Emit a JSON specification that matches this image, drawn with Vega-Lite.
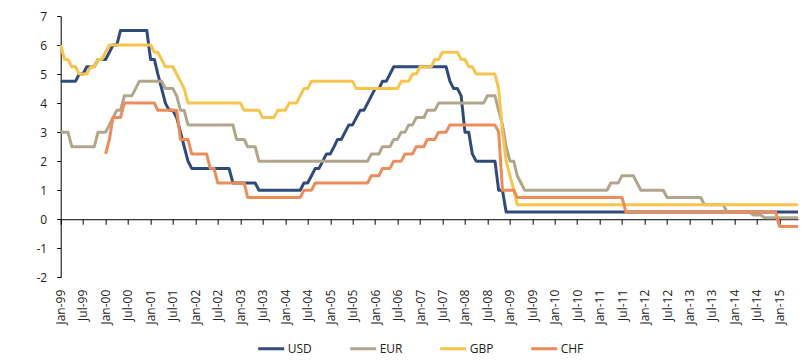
{
  "$schema": "https://vega.github.io/schema/vega-lite/v6.json",
  "autosize": {"type": "none"},
  "width": 737.3,
  "height": 261.3,
  "padding": {"left": 60.7, "top": 16, "right": 14, "bottom": 82.7},
  "background": "white",
  "config": {"view": {"stroke": null}, "font": "Open Sans"},
  "data": {"values": [
    {"currency":"USD","date":"1999-01-01","rate":4.75},
    {"currency":"USD","date":"1999-05-01","rate":4.75},
    {"currency":"USD","date":"1999-06-01","rate":5.0},
    {"currency":"USD","date":"1999-07-01","rate":5.0},
    {"currency":"USD","date":"1999-08-01","rate":5.25},
    {"currency":"USD","date":"1999-10-01","rate":5.25},
    {"currency":"USD","date":"1999-11-01","rate":5.5},
    {"currency":"USD","date":"2000-01-01","rate":5.5},
    {"currency":"USD","date":"2000-02-01","rate":5.75},
    {"currency":"USD","date":"2000-03-01","rate":6.0},
    {"currency":"USD","date":"2000-04-01","rate":6.0},
    {"currency":"USD","date":"2000-05-01","rate":6.5},
    {"currency":"USD","date":"2000-12-01","rate":6.5},
    {"currency":"USD","date":"2001-01-01","rate":5.5},
    {"currency":"USD","date":"2001-02-01","rate":5.5},
    {"currency":"USD","date":"2001-03-01","rate":5.0},
    {"currency":"USD","date":"2001-04-01","rate":4.5},
    {"currency":"USD","date":"2001-05-01","rate":4.0},
    {"currency":"USD","date":"2001-06-01","rate":3.75},
    {"currency":"USD","date":"2001-07-01","rate":3.75},
    {"currency":"USD","date":"2001-08-01","rate":3.5},
    {"currency":"USD","date":"2001-09-01","rate":3.0},
    {"currency":"USD","date":"2001-10-01","rate":2.5},
    {"currency":"USD","date":"2001-11-01","rate":2.0},
    {"currency":"USD","date":"2001-12-01","rate":1.75},
    {"currency":"USD","date":"2002-10-01","rate":1.75},
    {"currency":"USD","date":"2002-11-01","rate":1.25},
    {"currency":"USD","date":"2003-05-01","rate":1.25},
    {"currency":"USD","date":"2003-06-01","rate":1.0},
    {"currency":"USD","date":"2004-05-01","rate":1.0},
    {"currency":"USD","date":"2004-06-01","rate":1.25},
    {"currency":"USD","date":"2004-07-01","rate":1.25},
    {"currency":"USD","date":"2004-08-01","rate":1.5},
    {"currency":"USD","date":"2004-09-01","rate":1.75},
    {"currency":"USD","date":"2004-10-01","rate":1.75},
    {"currency":"USD","date":"2004-11-01","rate":2.0},
    {"currency":"USD","date":"2004-12-01","rate":2.25},
    {"currency":"USD","date":"2005-01-01","rate":2.25},
    {"currency":"USD","date":"2005-02-01","rate":2.5},
    {"currency":"USD","date":"2005-03-01","rate":2.75},
    {"currency":"USD","date":"2005-04-01","rate":2.75},
    {"currency":"USD","date":"2005-05-01","rate":3.0},
    {"currency":"USD","date":"2005-06-01","rate":3.25},
    {"currency":"USD","date":"2005-07-01","rate":3.25},
    {"currency":"USD","date":"2005-08-01","rate":3.5},
    {"currency":"USD","date":"2005-09-01","rate":3.75},
    {"currency":"USD","date":"2005-10-01","rate":3.75},
    {"currency":"USD","date":"2005-11-01","rate":4.0},
    {"currency":"USD","date":"2005-12-01","rate":4.25},
    {"currency":"USD","date":"2006-01-01","rate":4.5},
    {"currency":"USD","date":"2006-02-01","rate":4.5},
    {"currency":"USD","date":"2006-03-01","rate":4.75},
    {"currency":"USD","date":"2006-04-01","rate":4.75},
    {"currency":"USD","date":"2006-05-01","rate":5.0},
    {"currency":"USD","date":"2006-06-01","rate":5.25},
    {"currency":"USD","date":"2007-08-01","rate":5.25},
    {"currency":"USD","date":"2007-09-01","rate":4.75},
    {"currency":"USD","date":"2007-10-01","rate":4.5},
    {"currency":"USD","date":"2007-11-01","rate":4.5},
    {"currency":"USD","date":"2007-12-01","rate":4.25},
    {"currency":"USD","date":"2008-01-01","rate":3.0},
    {"currency":"USD","date":"2008-02-01","rate":3.0},
    {"currency":"USD","date":"2008-03-01","rate":2.25},
    {"currency":"USD","date":"2008-04-01","rate":2.0},
    {"currency":"USD","date":"2008-09-01","rate":2.0},
    {"currency":"USD","date":"2008-10-01","rate":1.0},
    {"currency":"USD","date":"2008-11-01","rate":1.0},
    {"currency":"USD","date":"2008-12-01","rate":0.25},
    {"currency":"USD","date":"2015-06-01","rate":0.25},

    {"currency":"EUR","date":"1999-01-01","rate":3.0},
    {"currency":"EUR","date":"1999-03-01","rate":3.0},
    {"currency":"EUR","date":"1999-04-01","rate":2.5},
    {"currency":"EUR","date":"1999-10-01","rate":2.5},
    {"currency":"EUR","date":"1999-11-01","rate":3.0},
    {"currency":"EUR","date":"2000-01-01","rate":3.0},
    {"currency":"EUR","date":"2000-02-01","rate":3.25},
    {"currency":"EUR","date":"2000-03-01","rate":3.5},
    {"currency":"EUR","date":"2000-04-01","rate":3.75},
    {"currency":"EUR","date":"2000-05-01","rate":3.75},
    {"currency":"EUR","date":"2000-06-01","rate":4.25},
    {"currency":"EUR","date":"2000-08-01","rate":4.25},
    {"currency":"EUR","date":"2000-09-01","rate":4.5},
    {"currency":"EUR","date":"2000-10-01","rate":4.75},
    {"currency":"EUR","date":"2001-04-01","rate":4.75},
    {"currency":"EUR","date":"2001-05-01","rate":4.5},
    {"currency":"EUR","date":"2001-07-01","rate":4.5},
    {"currency":"EUR","date":"2001-08-01","rate":4.25},
    {"currency":"EUR","date":"2001-09-01","rate":3.75},
    {"currency":"EUR","date":"2001-10-01","rate":3.75},
    {"currency":"EUR","date":"2001-11-01","rate":3.25},
    {"currency":"EUR","date":"2002-11-01","rate":3.25},
    {"currency":"EUR","date":"2002-12-01","rate":2.75},
    {"currency":"EUR","date":"2003-02-01","rate":2.75},
    {"currency":"EUR","date":"2003-03-01","rate":2.5},
    {"currency":"EUR","date":"2003-05-01","rate":2.5},
    {"currency":"EUR","date":"2003-06-01","rate":2.0},
    {"currency":"EUR","date":"2005-11-01","rate":2.0},
    {"currency":"EUR","date":"2005-12-01","rate":2.25},
    {"currency":"EUR","date":"2006-02-01","rate":2.25},
    {"currency":"EUR","date":"2006-03-01","rate":2.5},
    {"currency":"EUR","date":"2006-05-01","rate":2.5},
    {"currency":"EUR","date":"2006-06-01","rate":2.75},
    {"currency":"EUR","date":"2006-07-01","rate":2.75},
    {"currency":"EUR","date":"2006-08-01","rate":3.0},
    {"currency":"EUR","date":"2006-09-01","rate":3.0},
    {"currency":"EUR","date":"2006-10-01","rate":3.25},
    {"currency":"EUR","date":"2006-11-01","rate":3.25},
    {"currency":"EUR","date":"2006-12-01","rate":3.5},
    {"currency":"EUR","date":"2007-02-01","rate":3.5},
    {"currency":"EUR","date":"2007-03-01","rate":3.75},
    {"currency":"EUR","date":"2007-05-01","rate":3.75},
    {"currency":"EUR","date":"2007-06-01","rate":4.0},
    {"currency":"EUR","date":"2008-06-01","rate":4.0},
    {"currency":"EUR","date":"2008-07-01","rate":4.25},
    {"currency":"EUR","date":"2008-09-01","rate":4.25},
    {"currency":"EUR","date":"2008-10-01","rate":3.75},
    {"currency":"EUR","date":"2008-11-01","rate":3.25},
    {"currency":"EUR","date":"2008-12-01","rate":2.5},
    {"currency":"EUR","date":"2009-01-01","rate":2.0},
    {"currency":"EUR","date":"2009-02-01","rate":2.0},
    {"currency":"EUR","date":"2009-03-01","rate":1.5},
    {"currency":"EUR","date":"2009-04-01","rate":1.25},
    {"currency":"EUR","date":"2009-05-01","rate":1.0},
    {"currency":"EUR","date":"2011-03-01","rate":1.0},
    {"currency":"EUR","date":"2011-04-01","rate":1.25},
    {"currency":"EUR","date":"2011-06-01","rate":1.25},
    {"currency":"EUR","date":"2011-07-01","rate":1.5},
    {"currency":"EUR","date":"2011-10-01","rate":1.5},
    {"currency":"EUR","date":"2011-11-01","rate":1.25},
    {"currency":"EUR","date":"2011-12-01","rate":1.0},
    {"currency":"EUR","date":"2012-06-01","rate":1.0},
    {"currency":"EUR","date":"2012-07-01","rate":0.75},
    {"currency":"EUR","date":"2013-04-01","rate":0.75},
    {"currency":"EUR","date":"2013-05-01","rate":0.5},
    {"currency":"EUR","date":"2013-10-01","rate":0.5},
    {"currency":"EUR","date":"2013-11-01","rate":0.25},
    {"currency":"EUR","date":"2014-05-01","rate":0.25},
    {"currency":"EUR","date":"2014-06-01","rate":0.15},
    {"currency":"EUR","date":"2014-08-01","rate":0.15},
    {"currency":"EUR","date":"2014-09-01","rate":0.05},
    {"currency":"EUR","date":"2015-06-01","rate":0.05},

    {"currency":"GBP","date":"1999-01-01","rate":6.0},
    {"currency":"GBP","date":"1999-02-01","rate":5.5},
    {"currency":"GBP","date":"1999-03-01","rate":5.5},
    {"currency":"GBP","date":"1999-04-01","rate":5.25},
    {"currency":"GBP","date":"1999-05-01","rate":5.25},
    {"currency":"GBP","date":"1999-06-01","rate":5.0},
    {"currency":"GBP","date":"1999-08-01","rate":5.0},
    {"currency":"GBP","date":"1999-09-01","rate":5.25},
    {"currency":"GBP","date":"1999-10-01","rate":5.25},
    {"currency":"GBP","date":"1999-11-01","rate":5.5},
    {"currency":"GBP","date":"1999-12-01","rate":5.5},
    {"currency":"GBP","date":"2000-01-01","rate":5.75},
    {"currency":"GBP","date":"2000-02-01","rate":6.0},
    {"currency":"GBP","date":"2001-01-01","rate":6.0},
    {"currency":"GBP","date":"2001-02-01","rate":5.75},
    {"currency":"GBP","date":"2001-03-01","rate":5.75},
    {"currency":"GBP","date":"2001-04-01","rate":5.5},
    {"currency":"GBP","date":"2001-05-01","rate":5.25},
    {"currency":"GBP","date":"2001-07-01","rate":5.25},
    {"currency":"GBP","date":"2001-08-01","rate":5.0},
    {"currency":"GBP","date":"2001-09-01","rate":4.75},
    {"currency":"GBP","date":"2001-10-01","rate":4.5},
    {"currency":"GBP","date":"2001-11-01","rate":4.0},
    {"currency":"GBP","date":"2003-01-01","rate":4.0},
    {"currency":"GBP","date":"2003-02-01","rate":3.75},
    {"currency":"GBP","date":"2003-06-01","rate":3.75},
    {"currency":"GBP","date":"2003-07-01","rate":3.5},
    {"currency":"GBP","date":"2003-10-01","rate":3.5},
    {"currency":"GBP","date":"2003-11-01","rate":3.75},
    {"currency":"GBP","date":"2004-01-01","rate":3.75},
    {"currency":"GBP","date":"2004-02-01","rate":4.0},
    {"currency":"GBP","date":"2004-04-01","rate":4.0},
    {"currency":"GBP","date":"2004-05-01","rate":4.25},
    {"currency":"GBP","date":"2004-06-01","rate":4.5},
    {"currency":"GBP","date":"2004-07-01","rate":4.5},
    {"currency":"GBP","date":"2004-08-01","rate":4.75},
    {"currency":"GBP","date":"2005-07-01","rate":4.75},
    {"currency":"GBP","date":"2005-08-01","rate":4.5},
    {"currency":"GBP","date":"2006-07-01","rate":4.5},
    {"currency":"GBP","date":"2006-08-01","rate":4.75},
    {"currency":"GBP","date":"2006-10-01","rate":4.75},
    {"currency":"GBP","date":"2006-11-01","rate":5.0},
    {"currency":"GBP","date":"2006-12-01","rate":5.0},
    {"currency":"GBP","date":"2007-01-01","rate":5.25},
    {"currency":"GBP","date":"2007-04-01","rate":5.25},
    {"currency":"GBP","date":"2007-05-01","rate":5.5},
    {"currency":"GBP","date":"2007-06-01","rate":5.5},
    {"currency":"GBP","date":"2007-07-01","rate":5.75},
    {"currency":"GBP","date":"2007-11-01","rate":5.75},
    {"currency":"GBP","date":"2007-12-01","rate":5.5},
    {"currency":"GBP","date":"2008-01-01","rate":5.5},
    {"currency":"GBP","date":"2008-02-01","rate":5.25},
    {"currency":"GBP","date":"2008-03-01","rate":5.25},
    {"currency":"GBP","date":"2008-04-01","rate":5.0},
    {"currency":"GBP","date":"2008-09-01","rate":5.0},
    {"currency":"GBP","date":"2008-10-01","rate":4.5},
    {"currency":"GBP","date":"2008-11-01","rate":3.0},
    {"currency":"GBP","date":"2008-12-01","rate":2.0},
    {"currency":"GBP","date":"2009-01-01","rate":1.5},
    {"currency":"GBP","date":"2009-02-01","rate":1.0},
    {"currency":"GBP","date":"2009-03-01","rate":0.5},
    {"currency":"GBP","date":"2015-06-01","rate":0.5},

    {"currency":"CHF","date":"2000-01-01","rate":2.25},
    {"currency":"CHF","date":"2000-02-01","rate":2.75},
    {"currency":"CHF","date":"2000-03-01","rate":3.5},
    {"currency":"CHF","date":"2000-05-01","rate":3.5},
    {"currency":"CHF","date":"2000-06-01","rate":4.0},
    {"currency":"CHF","date":"2001-02-01","rate":4.0},
    {"currency":"CHF","date":"2001-03-01","rate":3.75},
    {"currency":"CHF","date":"2001-08-01","rate":3.75},
    {"currency":"CHF","date":"2001-09-01","rate":2.75},
    {"currency":"CHF","date":"2001-11-01","rate":2.75},
    {"currency":"CHF","date":"2001-12-01","rate":2.25},
    {"currency":"CHF","date":"2002-04-01","rate":2.25},
    {"currency":"CHF","date":"2002-05-01","rate":1.75},
    {"currency":"CHF","date":"2002-06-01","rate":1.75},
    {"currency":"CHF","date":"2002-07-01","rate":1.25},
    {"currency":"CHF","date":"2003-02-01","rate":1.25},
    {"currency":"CHF","date":"2003-03-01","rate":0.75},
    {"currency":"CHF","date":"2004-05-01","rate":0.75},
    {"currency":"CHF","date":"2004-06-01","rate":1.0},
    {"currency":"CHF","date":"2004-08-01","rate":1.0},
    {"currency":"CHF","date":"2004-09-01","rate":1.25},
    {"currency":"CHF","date":"2005-11-01","rate":1.25},
    {"currency":"CHF","date":"2005-12-01","rate":1.5},
    {"currency":"CHF","date":"2006-02-01","rate":1.5},
    {"currency":"CHF","date":"2006-03-01","rate":1.75},
    {"currency":"CHF","date":"2006-05-01","rate":1.75},
    {"currency":"CHF","date":"2006-06-01","rate":2.0},
    {"currency":"CHF","date":"2006-08-01","rate":2.0},
    {"currency":"CHF","date":"2006-09-01","rate":2.25},
    {"currency":"CHF","date":"2006-11-01","rate":2.25},
    {"currency":"CHF","date":"2006-12-01","rate":2.5},
    {"currency":"CHF","date":"2007-02-01","rate":2.5},
    {"currency":"CHF","date":"2007-03-01","rate":2.75},
    {"currency":"CHF","date":"2007-05-01","rate":2.75},
    {"currency":"CHF","date":"2007-06-01","rate":3.0},
    {"currency":"CHF","date":"2007-08-01","rate":3.0},
    {"currency":"CHF","date":"2007-09-01","rate":3.25},
    {"currency":"CHF","date":"2008-09-01","rate":3.25},
    {"currency":"CHF","date":"2008-10-01","rate":3.0},
    {"currency":"CHF","date":"2008-11-01","rate":1.0},
    {"currency":"CHF","date":"2009-02-01","rate":1.0},
    {"currency":"CHF","date":"2009-03-01","rate":0.75},
    {"currency":"CHF","date":"2011-07-01","rate":0.75},
    {"currency":"CHF","date":"2011-08-01","rate":0.25},
    {"currency":"CHF","date":"2014-12-01","rate":0.25},
    {"currency":"CHF","date":"2015-01-01","rate":-0.25},
    {"currency":"CHF","date":"2015-06-01","rate":-0.25}
  ]},
  "mark": {"type": "line", "strokeWidth": 3, "strokeJoin": "round"},
  "encoding": {
    "x": {
      "field": "date", "type": "temporal",
      "scale": {"type": "utc", "domain": [{"year": 1999, "month": 1, "date": 1, "utc": true}, {"year": 2015, "month": 6, "date": 1, "utc": true}]},
      "axis": {
        "title": null, "format": "%b-%y", "tickCount": {"interval": "month", "step": 6},
        "labelAngle": -90, "labelAlign": "right", "labelBaseline": "middle",
        "offset": -58.07, "tickSize": 5, "labelPadding": 65,
        "domainColor": "#000000", "tickColor": "#000000", "labelColor": "#222222",
        "labelFontSize": 12, "labelOverlap": false, "labelFlush": false, "labelBound": false,
        "grid": false, "domainWidth": 1, "tickWidth": 1
      }
    },
    "y": {
      "field": "rate", "type": "quantitative",
      "scale": {"domain": [-2, 7], "nice": false, "zero": false},
      "axis": {
        "title": null, "values": [-2, -1, 0, 1, 2, 3, 4, 5, 6, 7],
        "labelExpr": "'' + datum.value",
        "tickSize": 4, "labelPadding": 10, "grid": false,
        "domainColor": "#000000", "tickColor": "#000000", "labelColor": "#222222",
        "labelFontSize": 12
      }
    },
    "color": {
      "field": "currency", "type": "nominal",
      "scale": {"domain": ["USD", "EUR", "GBP", "CHF"], "range": ["#2F4B7C", "#B1A68C", "#F7C44E", "#EB8C5A"]},
      "legend": {
        "title": null, "orient": "none", "direction": "horizontal",
        "legendX": 196, "legendY": 318,
        "symbolType": "stroke", "symbolSize": 676, "symbolStrokeWidth": 3,
        "labelFontSize": 12, "labelColor": "#222222", "labelOffset": 2,
        "columnPadding": 31, "padding": 0
      }
    }
  }
}
